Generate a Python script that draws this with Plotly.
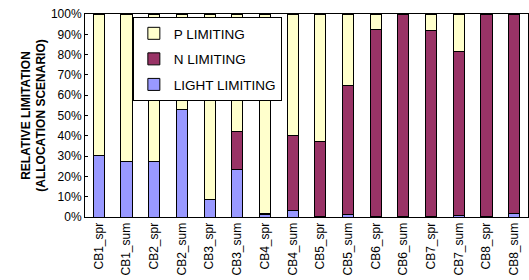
import plotly.graph_objects as go

categories = ["CB1_spr", "CB1_sum", "CB2_spr", "CB2_sum", "CB3_spr", "CB3_sum",
              "CB4_spr", "CB4_sum", "CB5_spr", "CB5_sum", "CB6_spr", "CB6_sum",
              "CB7_spr", "CB7_sum", "CB8_spr", "CB8_sum"]
light_limiting = [30.5, 27.3, 27.3, 52.8, 8.4, 23.6, 1.4, 3.4, 0.2, 1.2, 0.2, 0.4, 0.2, 0.9, 0.3, 1.8]
n_limiting = [0.0, 0.0, 0.0, 0.0, 0.0, 18.3, 0.3, 36.8, 37.1, 63.7, 92.2, 99.6, 91.6, 80.4, 99.7, 98.2]
p_limiting = [100 - a - b for a, b in zip(light_limiting, n_limiting)]

font = "Liberation Sans, Arial, sans-serif"

fig = go.Figure()
series = [("LIGHT LIMITING", light_limiting, "#9999FF", 3),
          ("N LIMITING", n_limiting, "#993366", 2),
          ("P LIMITING", p_limiting, "#FFFFCC", 1)]
for name, vals, col, rank in series:
    fig.add_trace(go.Bar(
        x=categories, y=vals, name=name, legendgroup=name, legendrank=rank,
        marker=dict(color=col, line=dict(color="#000000", width=1)),
    ))

fig.update_layout(
    width=529, height=280,
    barmode="stack", bargap=0.6,
    margin=dict(l=85, r=1, t=14, b=63, autoexpand=False),
    paper_bgcolor="white", plot_bgcolor="white",
    font=dict(family=font, size=12, color="#000000"),
    showlegend=True,
    legend=dict(
        x=0.108, y=0.985, xanchor="left", yanchor="top",
        bgcolor="white", bordercolor="#000000", borderwidth=1,
        traceorder="grouped", tracegroupgap=5,
        font=dict(family=font, size=13.5),
        itemwidth=30,
    ),
    xaxis=dict(
        tickangle=-90, showline=True, linecolor="#000000", linewidth=1,
        mirror=True, ticks="", tickfont=dict(size=12), showgrid=False,
        automargin=False,
    ),
    yaxis=dict(
        range=[0, 100], dtick=10, ticksuffix="%",
        showline=True, linecolor="#000000", linewidth=1, mirror=True,
        showgrid=False, ticks="inside", ticklen=3, tickcolor="#000000",
        tickfont=dict(size=12), automargin=False,
        title=dict(text="<b>RELATIVE LIMITATION<br>(ALLOCATION SCENARIO)</b>",
                   font=dict(size=12), standoff=2),
    ),
)

fig.write_html("out.html", config={"displayModeBar": False},
               post_script="document.body.style.margin='0';document.body.style.overflow='hidden';")
